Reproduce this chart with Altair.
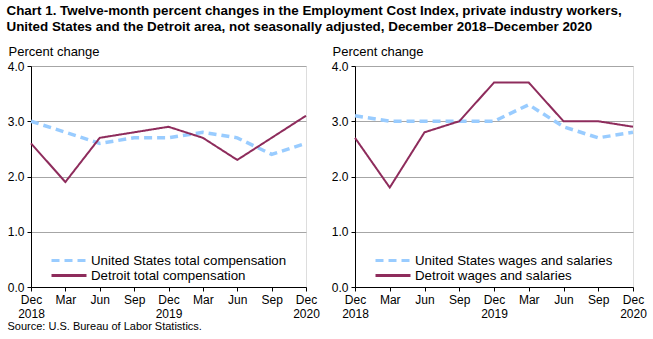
import altair as alt
import pandas as pd

periods = ["Dec 2018", "Mar 2019", "Jun 2019", "Sep 2019", "Dec 2019",
           "Mar 2020", "Jun 2020", "Sep 2020", "Dec 2020"]
tick_labels = [["Dec", "2018"], "Mar", "Jun", "Sep", ["Dec", "2019"],
               "Mar", "Jun", "Sep", ["Dec", "2020"]]

us_total = [3.0, 2.8, 2.6, 2.7, 2.7, 2.8, 2.7, 2.4, 2.6]
det_total = [2.6, 1.9, 2.7, 2.8, 2.9, 2.7, 2.3, 2.7, 3.1]
us_wages = [3.1, 3.0, 3.0, 3.0, 3.0, 3.3, 2.9, 2.7, 2.8]
det_wages = [2.7, 1.8, 2.8, 3.0, 3.7, 3.7, 3.0, 3.0, 2.9]

left_names = ["United States total compensation", "Detroit total compensation"]
right_names = ["United States wages and salaries", "Detroit wages and salaries"]

BLUE = "#99CCFF"
MAROON = "#8E2C5C"
FONT = "Liberation Sans"

label_js = "[" + ",".join(
    ("['%s','%s']" % tuple(l)) if isinstance(l, list) else "'%s'" % l
    for l in tick_labels) + "]"


def frame(names, us, det):
    rows = []
    for i in range(len(periods)):
        rows.append({"idx": i, "period": periods[i], "series": names[0], "value": us[i]})
    for i in range(len(periods)):
        rows.append({"idx": i, "period": periods[i], "series": names[1], "value": det[i]})
    return pd.DataFrame(rows)


def legend():
    return alt.Legend(title=None, orient="none", legendX=19, legendY=187,
                      symbolType="stroke", symbolSize=1225, clipHeight=15,
                      symbolStrokeWidth=3, labelFontSize=13.3, labelFont=FONT,
                      labelColor="#000", rowPadding=0, labelOffset=3, labelLimit=400)


def panel(names, us, det, left, width):
    df = frame(names, us, det)
    x = alt.X("idx:Q", scale=alt.Scale(domain=[0, 8], nice=False, zero=False),
              axis=alt.Axis(values=list(range(9)), labelExpr=label_js + "[datum.value]",
                            grid=False, tickSize=4, tickColor="#000", domainColor="#000",
                            labelFontSize=12, labelLineHeight=14, labelPadding=3,
                            labelColor="#000", labelFont=FONT, labelFlush=False,
                            title="Source: U.S. Bureau of Labor Statistics." if left else None,
                            titleFont=FONT, titleFontSize=11, titleFontWeight="normal",
                            titleAnchor="start", titleAlign="left", titleX=-24, titleY=33,
                            titleColor="#000"))
    y = alt.Y("value:Q", scale=alt.Scale(domain=[0, 4], nice=False),
              axis=alt.Axis(values=[0, 1, 2, 3, 4], format=".1f", grid=True,
                            gridColor="#A6A6A6", tickSize=4, tickColor="#000",
                            domainColor="#000", labelFontSize=12, labelFont=FONT,
                            labelColor="#000", labelPadding=3,
                            title="Percent change", titleAngle=0, titleFont=FONT,
                            titleFontSize=13, titleFontWeight="normal", titleAlign="left",
                            titleBaseline="alphabetic", titleX=-23, titleY=-11,
                            titleColor="#000"))
    color = alt.Color("series:N", scale=alt.Scale(domain=names, range=[BLUE, MAROON]),
                      legend=legend())
    dash = alt.StrokeDash("series:N", scale=alt.Scale(domain=names, range=[[8, 5], [1, 0]]),
                          legend=legend())
    base = alt.Chart(df).encode(x=x, y=y, color=color, strokeDash=dash)
    us_line = base.transform_filter(alt.datum.series == names[0]).mark_line(strokeWidth=3.5)
    det_line = base.transform_filter(alt.datum.series == names[1]).mark_line(strokeWidth=2)
    return alt.layer(us_line, det_line).properties(width=width, height=221)


left = panel(left_names, us_total, det_total, True, 275)
right = panel(right_names, us_wages, det_wages, False, 278)

chart = alt.hconcat(left, right, spacing=10).resolve_scale(
    color="independent", strokeDash="independent"
).properties(
    title=alt.TitleParams(
        ["Chart 1. Twelve-month percent changes in the Employment Cost  Index, private industry  workers,",
         "United States and the Detroit area, not seasonally adjusted, December 2018\u2013December 2020"],
        anchor="start", font=FONT, fontSize=13.4, fontWeight="bold", color="#000",
        lineHeight=16, offset=11, dx=0),
    padding={"left": 6, "top": 4, "right": 5, "bottom": 5},
).configure_view(stroke="#A6A6A6", strokeWidth=1).configure(background="white")

chart.save("out.html", embed_options={"renderer": "svg", "actions": False})
